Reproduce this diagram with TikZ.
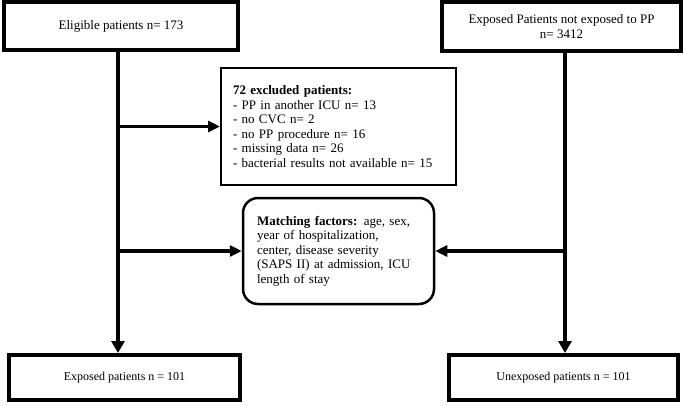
\documentclass[tikz,border=0pt]{standalone}
\usepackage{fontspec}
\setmainfont{Liberation Serif}
\usetikzlibrary{arrows.meta,positioning}

\begin{document}
\begin{tikzpicture} [
	x=1pt, y=-1pt,
	font=\fontsize{13}{14.5}\selectfont,
	mainbox/.style = {draw, line width=4pt, inner sep=0pt, align=center},
	infobox/.style = {draw, line width=2pt, inner xsep=12pt, align=left},
	factorbox/.style = {draw, line width=2.5pt, rounded corners=15pt, inner xsep=14pt, align=left},
	flow/.style = {line width=4pt, -{Triangle[length=12pt, width=13pt]}},
	branch/.style = {line width=3.5pt, -{Triangle[length=12pt, width=11pt]}},
]
\useasboundingbox (0,0) rectangle (685,405);
\node [mainbox, minimum width=234pt, minimum height=48pt] (eligible) at (121,26) {Eligible patients n= 173};
\node [mainbox, minimum width=239pt, minimum height=49pt] (notexposed) at (561.5,26.5) {Exposed Patients not exposed to PP\\n= 3412};
\node [infobox, minimum width=235pt, minimum height=117pt, text width=211pt] (excluded) at (338.5,126.5)
	{\textbf{72 excluded patients:}\\
	- PP in another ICU n= 13\\
	- no CVC n= 2\\
	- no PP procedure n= 16\\
	- missing data n= 26\\
	- bacterial results not available n= 15};
\node [factorbox, minimum width=191pt, minimum height=106pt, text width=163pt] (matching) at (338.5,251)
	{\textbf{Matching factors:} age, sex,\\
	year of hospitalization,\\
	center, disease severity\\
	(SAPS II) at admission, ICU\\
	length of stay};
\node [mainbox, minimum width=231pt, minimum height=45pt, font=\fontsize{12}{14}\selectfont] (exposed) at (124.5,377.5) {Exposed patients n = 101};
\node [mainbox, minimum width=229pt, minimum height=45pt, font=\fontsize{12}{14}\selectfont] (unexposed) at (563.5,377.5) {Unexposed patients n = 101};
% vertical lines
\coordinate (leftline) at (118,0);
\coordinate (rightline) at (565,0);
\draw [flow] (leftline |- eligible.south) -- (leftline |- exposed.north);
\draw [flow] (rightline |- notexposed.south) -- (rightline |- unexposed.north);
% side arrows
\draw [branch] (leftline |- excluded.west) -- (excluded.west);
\draw [branch] (leftline |- matching.west) -- (matching.west);
\draw [branch] (rightline |- matching.east) -- (matching.east);
\end{tikzpicture}
\end{document}
